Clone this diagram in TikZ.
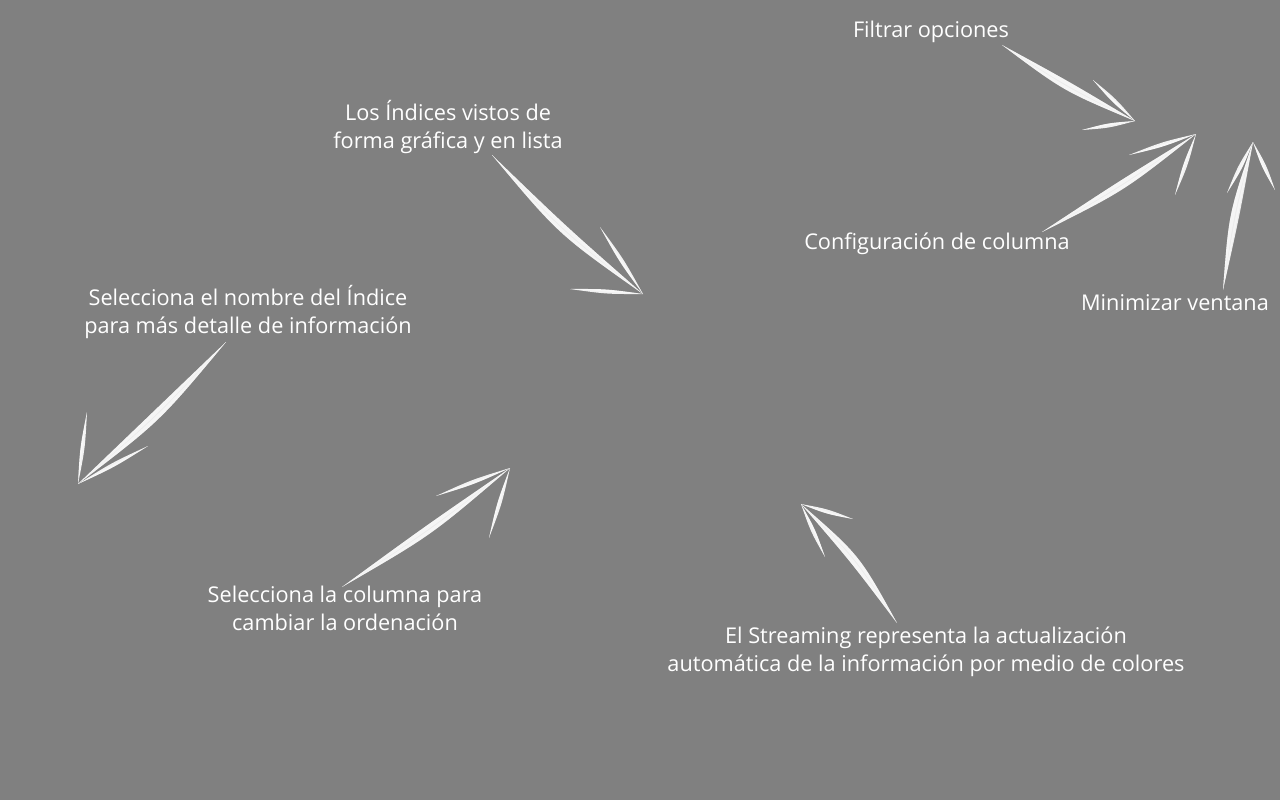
\documentclass[tikz,border=0pt]{standalone}
\usepackage{fontspec}
\setmainfont{Open Sans}
\usetikzlibrary{calc}
\definecolor{bg}{RGB}{128,128,128}
\tikzset{
  txt/.style={text=white, font=\fontsize{21.7}{28}\selectfont, align=center, inner sep=0pt},
}
% lens-shaped chalk stroke: a, b, bend, half width, opacity
\newcommand\lensstroke[5]{%
  \pgfmathsetmacro\dA{#3+#4}\pgfmathsetmacro\dB{#3-#4}%
  \fill[white,opacity=#5] (#1) .. controls ($(#1)!0.5!(#2)!\dA pt!90:(#2)$) .. (#2)
    .. controls ($(#1)!0.5!(#2)!\dB pt!90:(#2)$) .. (#1);}
% chalk arrow: tail, tip, head1, head2, bend
\newcommand\chalkarrow[5]{%
  \pgfmathsetmacro\bA{#5+3}\pgfmathsetmacro\bB{#5-3}%
  \lensstroke{#1}{#2}{#5}{5.5}{0.85}%
  \lensstroke{#1}{#2}{\bA}{2.5}{0.5}%
  \lensstroke{#1}{#2}{\bB}{2}{0.5}%
  \lensstroke{#2}{#3}{0}{2.6}{0.9}%
  \lensstroke{#2}{#4}{0}{2.6}{0.9}%
  \lensstroke{#2}{#3}{1.2}{1}{0.5}%
  \lensstroke{#2}{#4}{-1.2}{1}{0.5}%
}
\begin{document}
\begin{tikzpicture}[x=1pt,y=-1pt]
\fill[bg] (0,0) rectangle (1280,800);
\useasboundingbox (0,0) rectangle (1280,800);

\node[txt] (filtrar) at (931,32) {Filtrar opciones};
\node[txt] (indices) at (448,127) {Los Índices vistos de\\forma gráfica y en lista};
\node[txt] (config) at (937,244) {Configuración de columna};
\node[txt] (minim) at (1175,303) {Minimizar ventana};
\node[txt] (nombre) at (248,312) {Selecciona el nombre del Índice\\para más detalle de información};
\node[txt] (columna) at (345,608) {Selecciona la columna para\\cambiar la ordenación};
\node[txt] (stream) at (926,652) {El Streaming representa la actualización\\automática de la información por medio de colores};

% arrow coordinates
\coordinate (a1t) at (492,155); \coordinate (a1p) at (643,294);
\coordinate (a1h) at (600,227); \coordinate (a1k) at (570,289);
\coordinate (a2t) at (1002,45); \coordinate (a2p) at (1135,121);
\coordinate (a2h) at (1093,80); \coordinate (a2k) at (1082,130);
\coordinate (a3t) at (1042,232); \coordinate (a3p) at (1196,134);
\coordinate (a3h) at (1129,155); \coordinate (a3k) at (1175,195);
\coordinate (a4t) at (1223,290); \coordinate (a4p) at (1253,142);
\coordinate (a4h) at (1227,193); \coordinate (a4k) at (1275,190);
\coordinate (a5t) at (226,342); \coordinate (a5p) at (78,484);
\coordinate (a5h) at (87,412); \coordinate (a5k) at (148,446);
\coordinate (a6t) at (342,587); \coordinate (a6p) at (510,468);
\coordinate (a6h) at (436,496); \coordinate (a6k) at (489,538);
\coordinate (a7t) at (897,623); \coordinate (a7p) at (801,504);
\coordinate (a7h) at (825,557); \coordinate (a7k) at (853,519);

\chalkarrow{a1t}{a1p}{a1h}{a1k}{-8}
\chalkarrow{a2t}{a2p}{a2h}{a2k}{-4}
\chalkarrow{a3t}{a3p}{a3h}{a3k}{-4}
\chalkarrow{a4t}{a4p}{a4h}{a4k}{4}
\chalkarrow{a5t}{a5p}{a5h}{a5k}{6}
\chalkarrow{a6t}{a6p}{a6h}{a6k}{-4}
\chalkarrow{a7t}{a7p}{a7h}{a7k}{-8}
\end{tikzpicture}
\end{document}
